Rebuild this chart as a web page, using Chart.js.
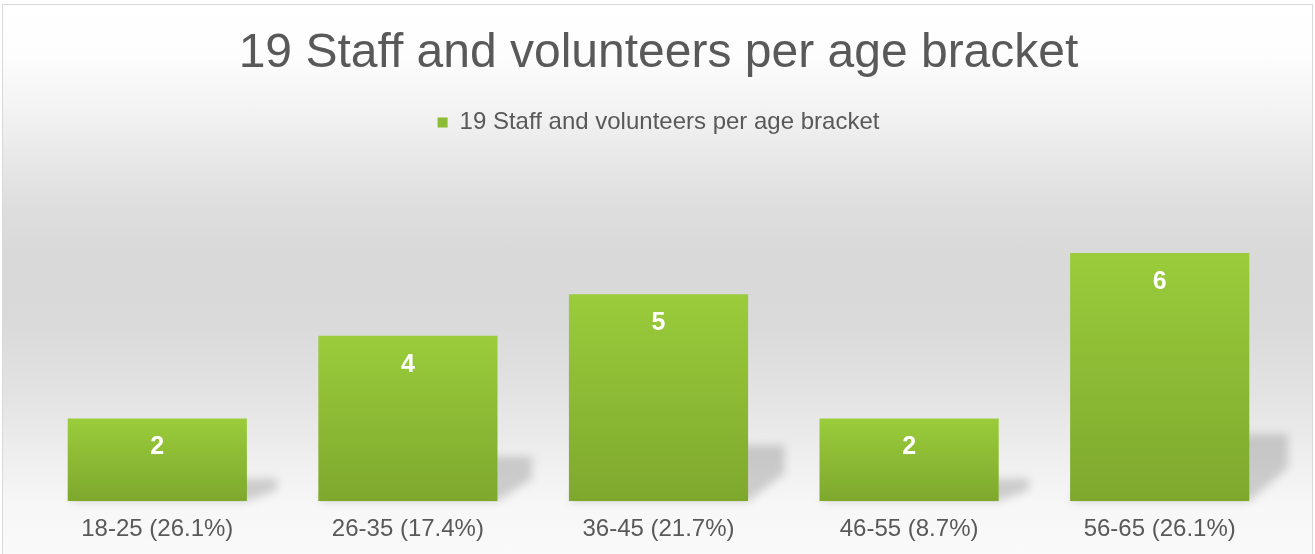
<!DOCTYPE html>
<html>
<head>
<meta charset="utf-8">
<script src="https://cdn.jsdelivr.net/npm/chart.js@4/dist/chart.umd.min.js"></script>
<style>
  html, body { margin: 0; padding: 0; background: #fff; overflow: hidden; }
  #frame {
    position: absolute; left: 2px; top: 4px; width: 1309px; height: 600px;
    border: 1px solid #d9d9d9;
    background: linear-gradient(to bottom,
      #ffffff 0px, #fdfdfd 50px, #f4f4f4 100px, #ebebeb 140px,
      #dedede 200px, #d9d9d9 250px, #dadada 320px, #e3e3e3 390px,
      #eeeeee 450px, #f7f7f7 500px, #fafafa 550px);
  }
  #chart { position: absolute; left: 0; top: 0; }
</style>
</head>
<body>
<div id="frame"></div>
<canvas id="chart" width="1315" height="554"></canvas>
<script>
"use strict";

const TITLE = "19 Staff and volunteers per age bracket";
const categories = ["18-25 (26.1%)", "26-35 (17.4%)", "36-45 (21.7%)", "46-55 (8.7%)", "56-65 (26.1%)"];
const counts = [2, 4, 5, 2, 6];
const yMax = 7;

const TEXT = "#595959";
const GREEN_TOP = "#9acc3b";
const GREEN_BOT = "#7ea82d";
const FONT = "'Liberation Sans', Arial, sans-serif";

/* per-bar vertical gradient, from each bar's own top to the baseline */
function barFill(c) {
  const chart = c.chart;
  if (!chart.chartArea || c.type !== "data") return "#8cbb34";
  const y = chart.scales.y;
  const top = y.getPixelForValue(c.raw);
  const bottom = y.getPixelForValue(0);
  const g = chart.ctx.createLinearGradient(0, top, 0, bottom);
  g.addColorStop(0, GREEN_TOP);
  g.addColorStop(1, GREEN_BOT);
  return g;
}

/* extra room between the legend and the plot */
const legendGap = {
  id: "legendGap",
  beforeInit(chart) {
    const fit = chart.legend.fit;
    chart.legend.fit = function () {
      fit.call(this);
      this.height += 67;
    };
  },
};

/* soft perspective shadow behind each bar, leaning to the right */
const barShadow = {
  id: "barShadow",
  beforeDatasetsDraw(chart) {
    const ctx = chart.ctx;
    const meta = chart.getDatasetMeta(0);
    ctx.save();
    ctx.filter = "blur(4px)";
    ctx.fillStyle = "rgba(0,0,0,0.16)";
    meta.data.forEach((bar) => {
      const h = bar.base - bar.y;
      const left = bar.x - bar.width / 2;
      const right = bar.x + bar.width / 2;
      const sh = h * 0.27;
      const shift = 26 + h * 0.05;
      ctx.beginPath();
      ctx.moveTo(left, bar.base);
      ctx.lineTo(right, bar.base);
      ctx.lineTo(right + shift, bar.base - sh * 0.5);
      ctx.lineTo(right + shift, bar.base - sh);
      ctx.lineTo(left + shift, bar.base - sh);
      ctx.closePath();
      ctx.fill();
    });
    ctx.restore();
  },
};

/* value labels inside the top of each bar */
const barValues = {
  id: "barValues",
  afterDatasetsDraw(chart) {
    const ctx = chart.ctx;
    const meta = chart.getDatasetMeta(0);
    ctx.save();
    ctx.font = "bold 25px " + FONT;
    ctx.fillStyle = "#ffffff";
    ctx.textAlign = "center";
    ctx.textBaseline = "middle";
    meta.data.forEach((bar, i) => {
      ctx.fillText(String(counts[i]), bar.x, bar.y + 29);
    });
    ctx.restore();
  },
};

new Chart(document.getElementById("chart"), {
  type: "bar",
  data: {
    labels: categories,
    datasets: [
      {
        label: TITLE,
        data: counts,
        backgroundColor: barFill,
        borderWidth: 0,
        barPercentage: 0.715,
        categoryPercentage: 1,
      },
    ],
  },
  options: {
    responsive: false,
    animation: false,
    devicePixelRatio: 1,
    layout: { padding: { left: 32, right: 30, top: 0, bottom: 4 } },
    plugins: {
      tooltip: { enabled: false },
      title: {
        display: true,
        text: TITLE,
        color: TEXT,
        font: { family: FONT, size: 48, weight: "normal" },
        padding: { top: 25, bottom: 18 },
      },
      legend: {
        display: true,
        position: "top",
        labels: {
          color: TEXT,
          font: { family: FONT, size: 24 },
          boxWidth: 10,
          boxHeight: 10,
          padding: 10,
          generateLabels: () => [
            { text: TITLE, fillStyle: "#8cbb34", strokeStyle: "#8cbb34", fontColor: TEXT, lineWidth: 0, datasetIndex: 0 },
          ],
        },
      },
    },
    scales: {
      x: {
        grid: { display: false },
        border: { display: false },
        ticks: { color: TEXT, font: { family: FONT, size: 24 }, padding: 6, maxRotation: 0 },
      },
      y: {
        display: false,
        min: 0,
        max: yMax,
      },
    },
  },
  plugins: [legendGap, barShadow, barValues],
});
</script>
</body>
</html>
